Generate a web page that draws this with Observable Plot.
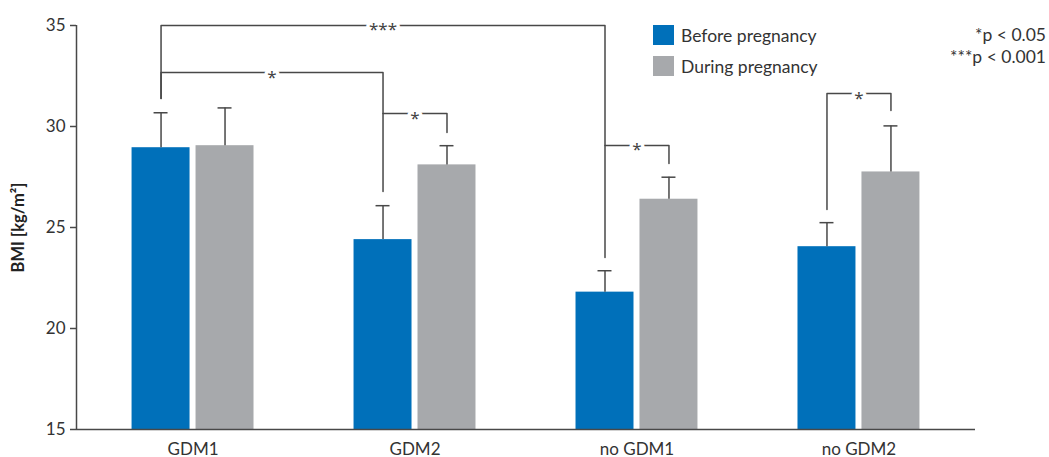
<!DOCTYPE html>
<html>
<head>
<meta charset="utf-8">
<script src="https://cdn.jsdelivr.net/npm/d3@7"></script>
<script src="https://cdn.jsdelivr.net/npm/@observablehq/plot@0.6"></script>
<style>
  html, body { margin: 0; padding: 0; background: #fff; }
  #wrap { position: relative; width: 1049px; height: 457px; font-family: Lato, "Open Sans", sans-serif; color: #333; }
  .sw { position: absolute; width: 21px; height: 20px; }
  .lt { position: absolute; font-size: 17.5px; line-height: 20px; white-space: nowrap; }
  #note { position: absolute; right: 3px; top: 24px; font-size: 17.5px; line-height: 22px; text-align: right; white-space: nowrap; }
</style>
</head>
<body>
<div id="wrap"></div>
<script>
// ---- data ----
const groups = ["GDM1", "GDM2", "no GDM1", "no GDM2"];
const series = ["Before pregnancy", "During pregnancy"];
const before = [28.95, 24.4, 21.8, 24.05];
const during = [29.05, 28.1, 26.4, 27.75];
const beforeSD = [1.73, 1.68, 1.06, 1.19];
const duringSD = [1.87, 0.95, 1.09, 2.28];
const colors = ["#0070ba", "#a7a9ac"];
const yTicks = [15, 20, 25, 30, 35];
const yLabel = "BMI [kg/m²]";
// significance brackets: [group index, series index]
const bracketFrom = [[0, 0], [0, 0], [1, 0], [2, 0], [3, 0]];
const bracketTo = [[2, 0], [1, 0], [1, 1], [2, 1], [3, 1]];
const bracketTop = [35, 32.67, 30.64, 29.06, 31.63];
const bracketLeftEnd = [31.39, 31.39, 30.64, 29.06, 25.89];
const bracketRightEnd = [23.51, 26.78, 29.70, 28.17, 30.79];
const bracketLabels = ["***", "*", "*", "*", "*"];
const noteLines = ["*p < 0.05", "***p < 0.001"];

// ---- layout (in x-scale units: one unit per group) ----
const OFF = 0.1441, HALF = 0.1306, CAP = 0.0315;
const xOf = (g, s) => g + (s === 0 ? -OFF : OFF);

const rows = groups.flatMap((g, i) => [
  {group: g, gi: i, s: 0, series: series[0], value: before[i], sd: beforeSD[i]},
  {group: g, gi: i, s: 1, series: series[1], value: during[i], sd: duringSD[i]}
]);

const bracketIdx = bracketLabels.map((_, k) => k);
const bracketPts = bracketIdx.flatMap(k => {
  const xa = xOf(...bracketFrom[k]), xb = xOf(...bracketTo[k]);
  return [
    {k, x: xa, y: bracketLeftEnd[k]},
    {k, x: xa, y: bracketTop[k]},
    {k, x: xb, y: bracketTop[k]},
    {k, x: xb, y: bracketRightEnd[k]}
  ];
});

const lineColor = "#484848";
const xDomain = [-0.525, groups.length - 1 + 0.525];

const chart = Plot.plot({
  width: 1049,
  height: 457,
  marginLeft: 76,
  marginRight: 74,
  marginTop: 25,
  marginBottom: 28,
  style: {fontFamily: "Lato, 'Open Sans', sans-serif", fontSize: "17px", color: "#333", background: "transparent", overflow: "visible"},
  x: {domain: xDomain, label: null},
  y: {domain: [yTicks[0], yTicks[yTicks.length - 1]], label: null},
  color: {type: "ordinal", domain: series, range: colors},
  marks: [
    Plot.rect(rows, {x1: r => xOf(r.gi, r.s) - HALF, x2: r => xOf(r.gi, r.s) + HALF, y1: () => yTicks[0], y2: "value", fill: "series"}),
    Plot.ruleX(rows, {x: r => xOf(r.gi, r.s), y1: "value", y2: r => r.value + r.sd, stroke: lineColor, strokeWidth: 1.5}),
    Plot.ruleY(rows, {x1: r => xOf(r.gi, r.s) - CAP, x2: r => xOf(r.gi, r.s) + CAP, y: r => r.value + r.sd, stroke: lineColor, strokeWidth: 1.5}),
    Plot.line(bracketPts, {x: "x", y: "y", z: "k", stroke: lineColor, strokeWidth: 1.5}),
    Plot.text(bracketIdx, {
      x: k => (xOf(...bracketFrom[k]) + xOf(...bracketTo[k])) / 2,
      y: k => bracketTop[k],
      text: k => bracketLabels[k],
      fontFamily: "'Noto Sans', 'DejaVu Sans', sans-serif",
      fontSize: 17, fill: "#444", stroke: "white", strokeWidth: 7, dy: 4.5
    }),
    Plot.ruleX([xDomain[0]], {stroke: lineColor, strokeWidth: 1.5}),
    Plot.ruleY([yTicks[0]], {stroke: lineColor, strokeWidth: 1.5}),
    Plot.axisY({ticks: yTicks, tickSize: 6, tickPadding: 5, fontSize: 17, label: null, stroke: lineColor, strokeWidth: 1.5}),
    Plot.axisX({ticks: groups.map((_, i) => i), tickFormat: i => groups[i], tickSize: 0, tickPadding: 13, fontSize: 17, label: null}),
    Plot.text([yLabel], {frameAnchor: "left", rotate: -90, dx: -57.5, fontSize: 16.5, fontWeight: "bold", fill: "#222", textAnchor: "middle"})
  ]
});

const wrap = document.getElementById("wrap");
wrap.appendChild(chart);

// legend (HTML overlay)
series.forEach((s, i) => {
  const sw = document.createElement("div");
  sw.className = "sw";
  sw.style.left = "653px";
  sw.style.top = (25 + i * 31) + "px";
  sw.style.background = colors[i];
  wrap.appendChild(sw);
  const t = document.createElement("div");
  t.className = "lt";
  t.style.left = "681px";
  t.style.top = (26 + i * 31) + "px";
  t.textContent = s;
  wrap.appendChild(t);
});
const note = document.createElement("div");
note.id = "note";
note.innerHTML = noteLines.map(l => `<div>${l}</div>`).join("");
wrap.appendChild(note);
chart.style.position = "absolute";
chart.style.left = "0";
chart.style.top = "0";
</script>
</body>
</html>
